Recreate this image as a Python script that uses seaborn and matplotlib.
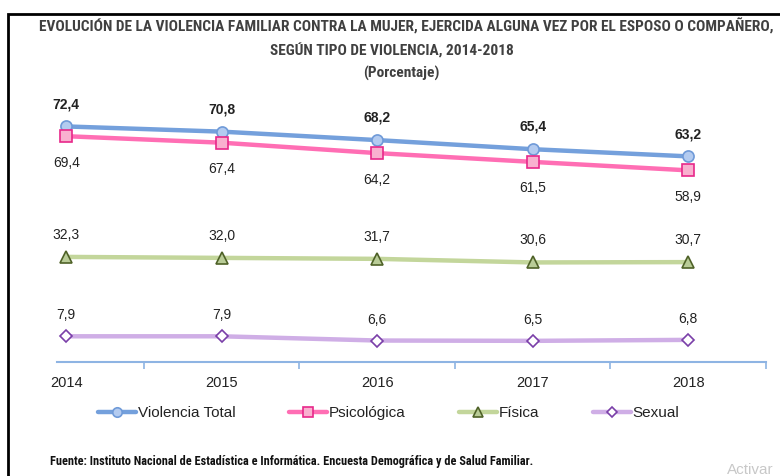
import matplotlib
matplotlib.use('Agg')
import matplotlib.pyplot as plt
import seaborn as sns
import pandas as pd
from matplotlib.patches import Rectangle
from matplotlib import font_manager as fm

# data
years = ['2014', '2015', '2016', '2017', '2018']
violencia_total = [72.4, 70.8, 68.2, 65.4, 63.2]
psicologica = [69.4, 67.4, 64.2, 61.5, 58.9]
fisica = [32.3, 32.0, 31.7, 30.6, 30.7]
sexual = [7.9, 7.9, 6.6, 6.5, 6.8]

sns.set_style('white')
plt.rcParams['font.family'] = ['Liberation Sans', 'DejaVu Sans']

# look for a narrow / condensed bold face for the title and source
cands = []
for f in fm.fontManager.ttflist:
    fn = f.fname.lower()
    if ('narrow' in fn or 'condensed' in fn) and 'bold' in fn and 'oblique' not in fn and 'italic' not in fn:
        cands.append(('liberation' in fn, f.fname))
cands.sort(reverse=True)
if cands:
    title_fp = fm.FontProperties(fname=cands[0][1])
    tsize, ssize = 11.1, 8.8
else:
    title_fp = fm.FontProperties(family='DejaVu Sans', weight='bold')
    tsize, ssize = 8.2, 7.2

fig = plt.figure(figsize=(7.8, 4.76), dpi=100)
ax = fig.add_axes([0.073, 0.2395, 0.909, 0.5605])

# name, values, line colour, marker, face, edge, label offset, bold
series = [
    ('Violencia Total', violencia_total, '#74a0dc', 'o', '#b3cbf0', '#6f9ad8', 16, True),
    ('Psicológica', psicologica, '#ff6eb4', 's', '#f9b0cf', '#e8288a', -19, False),
    ('Física', fisica, '#c3d69b', '^', '#b9cc97', '#4f6228', 16, False),
    ('Sexual', sexual, '#cfaee6', 'D', '#ffffff', '#7a3fa8', 15, False),
]

pos = list(range(len(years)))
for name, vals, col, mk, face, edge, off, bold in series:
    df = pd.DataFrame({'x': pos, 'y': vals})
    sns.lineplot(data=df, x='x', y='y', ax=ax, color=col, lw=3.2,
                 marker=mk, markersize=8 if mk != 'D' else 6,
                 markerfacecolor=face, markeredgecolor=edge, markeredgewidth=1.2,
                 label=name)
    for i, v in enumerate(vals):
        ax.annotate(f'{v:.1f}'.replace('.', ','), (i, v), xytext=(0, off),
                    textcoords='offset points', ha='center', va='center',
                    fontsize=10, color='#222222',
                    fontweight='bold' if bold else 'normal')

ax.set_xlim(-0.06, 4.5)
ax.set_ylim(0, 82)
ax.set_yticks([])
ax.set_xticks(pos)
ax.set_xticklabels(years, fontsize=10.5, color='#222222')
ax.set_xticks([p + 0.5 for p in pos], minor=True)
ax.tick_params(axis='x', which='major', length=0, pad=10)
ax.tick_params(axis='x', which='minor', bottom=True, length=5, width=1.2,
               color='#8eb4e3', direction='out')
ax.set_xlabel('')
ax.set_ylabel('')
for s in ['top', 'left', 'right']:
    ax.spines[s].set_visible(False)
ax.spines['bottom'].set_color('#8eb4e3')
ax.spines['bottom'].set_linewidth(1.5)

leg = ax.legend(loc='center', bbox_to_anchor=(0.468, -0.192), ncol=4, frameon=False,
                fontsize=11, handlelength=2.5, columnspacing=3.5, handletextpad=0.1,
                markerscale=0.85)
for t in leg.get_texts():
    t.set_color('#222222')

title_color = '#404040'
fig.text(406 / 780, 1 - 26 / 476, 'EVOLUCIÓN DE LA VIOLENCIA FAMILIAR CONTRA LA MUJER, EJERCIDA ALGUNA VEZ POR EL ESPOSO O COMPAÑERO,',
         ha='center', va='center', fontproperties=title_fp, fontsize=tsize, color=title_color)
fig.text(392 / 780, 1 - 51 / 476, 'SEGÚN TIPO DE VIOLENCIA, 2014-2018',
         ha='center', va='center', fontproperties=title_fp, fontsize=tsize, color=title_color)
fig.text(401 / 780, 1 - 73 / 476, '(Porcentaje)',
         ha='center', va='center', fontproperties=title_fp, fontsize=tsize, color=title_color)
fig.text(50 / 780, 1 - 461 / 476,
         'Fuente: Instituto Nacional de Estadística e Informática. Encuesta Demográfica y de Salud Familiar.',
         ha='left', va='center', fontproperties=title_fp, fontsize=ssize, color='#111111')
fig.text(727 / 780, 1 - 470 / 476, 'Activar', ha='left', va='center', fontsize=11, color='#c8c8c8')

# frame around the chart
fig.patches.append(Rectangle((8 / 780, -0.05), 1.0, 1 - 14 / 476 + 0.05, transform=fig.transFigure,
                             fill=False, edgecolor='black', lw=2))

fig.savefig('out.png', dpi=100)
